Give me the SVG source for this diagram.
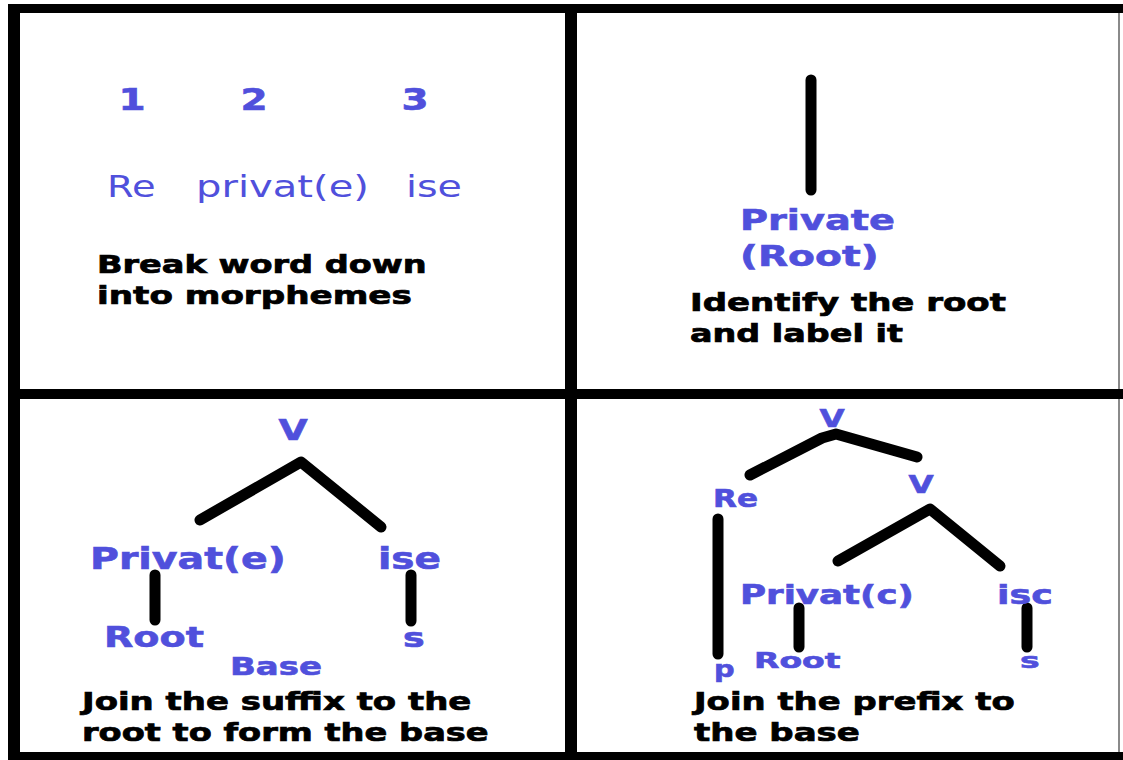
<svg xmlns="http://www.w3.org/2000/svg" width="1123" height="760" viewBox="0 0 1123 760">
<style>
text{font-family:"DejaVu Sans","Liberation Sans",sans-serif}
.b{fill:#5050DC;font-weight:bold;stroke:#5050DC;stroke-width:0.6}
.r{fill:#5050DC;font-weight:normal}
.k{fill:#000;font-weight:bold;stroke:#000;stroke-width:0.7}
.ln{stroke:#000;stroke-width:11;stroke-linecap:round;stroke-linejoin:round;fill:none}
.fr{stroke:#000;fill:none}
</style>
<rect width="1123" height="760" fill="#fff"/>
<g id="frame">
<line x1="1119" y1="4" x2="1119" y2="760" stroke="#8a8a8a" stroke-width="2"/>
<line class="fr" x1="8" y1="8.5" x2="1123" y2="8.5" stroke-width="9"/>
<line class="fr" x1="14" y1="4" x2="14" y2="760" stroke-width="12"/>
<line class="fr" x1="571" y1="4" x2="571" y2="760" stroke-width="12"/>
<line class="fr" x1="8" y1="394" x2="1123" y2="394" stroke-width="10"/>
<line class="fr" x1="8" y1="756" x2="1123" y2="756" stroke-width="8"/>
</g>
<g id="connectors">
<line class="ln" x1="811" y1="80" x2="811" y2="190"/>
<polyline class="ln" points="200,520 301,462 381,527"/>
<line class="ln" x1="155" y1="575" x2="155" y2="620"/>
<line class="ln" x1="411" y1="575" x2="411" y2="621"/>
<polyline class="ln" points="750,475 822,438 836,434 917,457"/>
<line class="ln" x1="718" y1="519" x2="718" y2="654"/>
<polyline class="ln" points="838,561 930,509 1000,566"/>
<line class="ln" x1="799" y1="608" x2="799" y2="647"/>
<line class="ln" x1="1027" y1="608" x2="1027" y2="647"/>
</g>
<g id="panel1">
<g id="n1"><text class="b" transform="translate(132,110) scale(1.3,1)" font-size="30" text-anchor="middle">1</text></g>
<g id="n2"><text class="b" transform="translate(254,110) scale(1.3,1)" font-size="30" text-anchor="middle">2</text></g>
<g id="n3"><text class="b" transform="translate(415,110) scale(1.3,1)" font-size="30" text-anchor="middle">3</text></g>
<g id="m-re"><text class="r" transform="translate(107,197) scale(1.28,1)" font-size="30">Re</text></g>
<g id="m-privat"><text class="r" transform="translate(196,197) scale(1.336,1)" font-size="30">privat(e)</text></g>
<g id="m-ise"><text class="r" transform="translate(406,197) scale(1.32,1)" font-size="30">ise</text></g>
<g id="cap1"><text class="k" transform="translate(97,273) scale(1.343,1)" font-size="25">Break word down</text><text class="k" transform="translate(97,304) scale(1.368,1)" font-size="25">into morphemes</text></g>
</g>
<g id="panel2">
<g id="root-node"><text class="b" transform="translate(740,230) scale(1.366,1)" font-size="28">Private</text><text class="b" transform="translate(740,266) scale(1.4,1)" font-size="28">(Root)</text></g>
<g id="cap2"><text class="k" transform="translate(690,311) scale(1.36,1)" font-size="25">Identify the root</text><text class="k" transform="translate(690,342) scale(1.336,1)" font-size="25">and label it</text></g>
</g>
<g id="panel3">
<g id="v1"><text class="b" transform="translate(293,440) scale(1.3,1)" font-size="29" text-anchor="middle">V</text></g>
<g id="privat3"><text class="b" transform="translate(90,569) scale(1.315,1)" font-size="30">Privat(e)</text></g>
<g id="ise3"><text class="b" transform="translate(378,569) scale(1.3,1)" font-size="30">ise</text></g>
<g id="root3"><text class="b" transform="translate(104,647) scale(1.315,1)" font-size="29">Root</text></g>
<g id="s3"><text class="b" transform="translate(403,647) scale(1.35,1)" font-size="27">s</text></g>
<g id="base3"><text class="b" transform="translate(230,675) scale(1.358,1)" font-size="25">Base</text></g>
<g id="cap3"><text class="k" transform="translate(82,710) scale(1.358,1)" font-size="25">Join the suffix to the</text><text class="k" transform="translate(82,741) scale(1.346,1)" font-size="25">root to form the base</text></g>
</g>
<g id="panel4">
<g id="v-top"><text class="b" transform="translate(832,427) scale(1.3,1)" font-size="25" text-anchor="middle">V</text></g>
<g id="v-mid"><text class="b" transform="translate(921,493) scale(1.3,1)" font-size="25" text-anchor="middle">V</text></g>
<g id="re4"><text class="b" transform="translate(713,507) scale(1.295,1)" font-size="24">Re</text></g>
<g id="p4"><text class="b" transform="translate(714,677) scale(1.25,1)" font-size="23">p</text></g>
<g id="privat4"><text class="b" transform="translate(740,604) scale(1.37,1)" font-size="26">Privat(c)</text></g>
<g id="isc4"><text class="b" transform="translate(997,604) scale(1.4,1)" font-size="26">isc</text></g>
<g id="root4"><text class="b" transform="translate(754,668) scale(1.5,1)" font-size="22">Root</text></g>
<g id="s4"><text class="b" transform="translate(1020,668) scale(1.5,1)" font-size="22">s</text></g>
<g id="cap4"><text class="k" transform="translate(694,710) scale(1.356,1)" font-size="25">Join the prefix to</text><text class="k" transform="translate(694,741) scale(1.36,1)" font-size="25">the base</text></g>
</g>
</svg>
